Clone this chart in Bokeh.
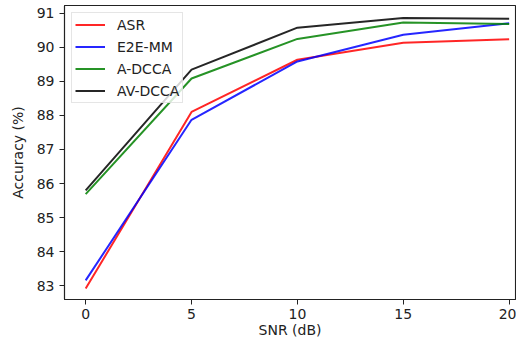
from bokeh.plotting import figure
from bokeh.models import FixedTicker, Legend, LegendItem, Range1d
from bokeh.embed import file_html
from bokeh.resources import INLINE

snr = [0, 5, 10, 15, 20]
asr = [82.92, 88.10, 89.63, 90.13, 90.23]
e2e_mm = [83.16, 87.87, 89.58, 90.36, 90.70]
a_dcca = [85.69, 89.08, 90.24, 90.72, 90.68]
av_dcca = [85.80, 89.34, 90.57, 90.85, 90.83]
x_ticks = [0, 5, 10, 15, 20]
y_ticks = [83, 84, 85, 86, 87, 88, 89, 90, 91]

FONT = "DejaVu Sans"
FS = "14px"

p = figure(width=516, height=342, output_backend="svg", toolbar_location=None,
           x_range=Range1d(-1.0, 20.3), y_range=Range1d(82.6, 91.22),
           min_border_left=64, min_border_right=1, min_border_top=5, min_border_bottom=43)

series = [("ASR", asr, "#ff0000"), ("E2E-MM", e2e_mm, "#0000ff"),
          ("A-DCCA", a_dcca, "#008000"), ("AV-DCCA", av_dcca, "#000000")]
items = []
for name, ys, col in series:
    r = p.line(snr, ys, line_color=col, line_width=2, line_alpha=0.85)
    items.append(LegendItem(label=name, renderers=[r]))

legend = Legend(items=items, location="top_left", margin=7,
                label_text_font=FONT, label_text_font_size=FS, label_text_color="#222222",
                glyph_width=30, glyph_height=17, label_height=17, label_standoff=12,
                spacing=5, padding=3, border_line_color="#cccccc", border_line_width=1,
                background_fill_alpha=0.8)
p.add_layout(legend)

p.xgrid.grid_line_color = None
p.ygrid.grid_line_color = None
p.outline_line_color = "#222222"
p.outline_line_width = 1.1

p.xaxis.ticker = FixedTicker(ticks=x_ticks)
p.yaxis.ticker = FixedTicker(ticks=y_ticks)
for ax in (p.xaxis[0], p.yaxis[0]):
    ax.major_label_text_font = FONT
    ax.major_label_text_font_size = FS
    ax.major_label_text_color = "#222222"
    ax.axis_label_text_font = FONT
    ax.axis_label_text_font_size = FS
    ax.axis_label_text_font_style = "normal"
    ax.axis_label_text_color = "#222222"
    ax.minor_tick_line_color = None
    ax.major_tick_in = 0
    ax.major_tick_out = 5
    ax.major_tick_line_color = "#222222"
    ax.axis_line_color = "#222222"
    ax.axis_line_width = 1.1

p.xaxis.axis_label = "SNR (dB)"
p.yaxis.axis_label = "Accuracy (%)"
p.xaxis.axis_label_standoff = 0
p.yaxis.axis_label_standoff = 8
p.xaxis.major_label_standoff = 4
p.yaxis.major_label_standoff = 5

open("out.html", "w").write(file_html(p, INLINE))
